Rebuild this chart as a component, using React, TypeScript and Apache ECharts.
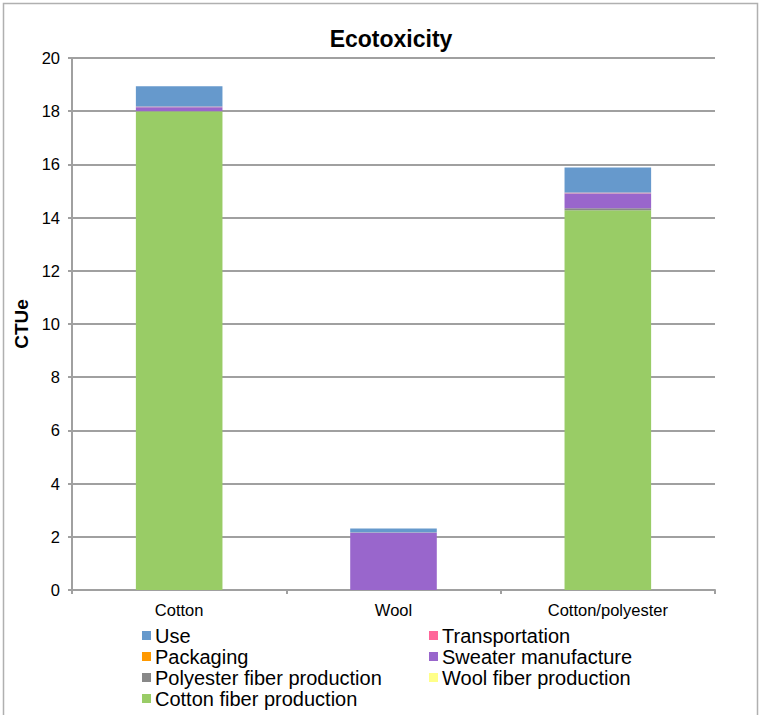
import React, { useEffect, useRef } from "react";
import * as echarts from "echarts";

const categories = ["Cotton", "Wool", "Cotton/polyester"];
const yTicks = { min: 0, max: 20, interval: 2 };

const cottonFiber = [18.0, 0, 14.28];
const woolFiber = [0, 0, 0];
const polyesterFiber = [0, 0, 0.07];
const sweaterManufacture = [0.15, 2.14, 0.56];
const packaging = [0, 0, 0];
const transportation = [0.03, 0.02, 0.03];
const use = [0.76, 0.15, 0.94];

const seriesDefs = [
  { name: "Cotton fiber production", data: cottonFiber, color: "#99CC66" },
  { name: "Wool fiber production", data: woolFiber, color: "#FFFF88" },
  { name: "Polyester fiber production", data: polyesterFiber, color: "#888888" },
  { name: "Sweater manufacture", data: sweaterManufacture, color: "#9966CC" },
  { name: "Packaging", data: packaging, color: "#FF9900" },
  { name: "Transportation", data: transportation, color: "#CC88AA" },
  { name: "Use", data: use, color: "#6699CC" },
];

const legendColors: Record<string, string> = { Transportation: "#FF6699" };

const leftLegend = ["Use", "Packaging", "Polyester fiber production", "Cotton fiber production"];
const rightLegend = ["Transportation", "Sweater manufacture", "Wool fiber production"];

const FONT = "Liberation Sans, Arial, Helvetica, sans-serif";

export default function App() {
  const ref = useRef<HTMLDivElement>(null);
  useEffect(() => {
    if (!ref.current) return;
    const chart = echarts.init(ref.current, null, { renderer: "svg" });
    const legendCommon = {
      orient: "vertical" as const,
      icon: "rect",
      itemWidth: 9,
      itemHeight: 9,
      itemGap: 0,
      height: 120,
      selectedMode: false,
      padding: 0,
      textStyle: {
        fontFamily: FONT,
        fontSize: 20,
        color: "#000",
        padding: [5, 0, 0, -1],
        lineHeight: 16,
      },
    };
    const toLegendData = (names: string[]) =>
      names.map((n) => (legendColors[n] ? { name: n, itemStyle: { color: legendColors[n] } } : { name: n }));
    chart.setOption({
      animation: false,
      backgroundColor: "#fff",
      title: {
        text: "Ecotoxicity",
        left: 386,
        top: 22,
        textAlign: "center",
        textStyle: { fontFamily: FONT, fontSize: 23, fontWeight: "bold", color: "#000" },
      },
      graphic: [
        {
          type: "rect",
          shape: { x: 3.5, y: 3.5, width: 754, height: 730 },
          style: { fill: "none", stroke: "#b0b0b0", lineWidth: 1.5 },
          silent: true,
        },
      ],
      grid: { left: 72, right: 47, top: 58, bottom: 125, containLabel: false },
      legend: [
        { ...legendCommon, data: toLegendData(leftLegend), left: 142, top: 625 },
        { ...legendCommon, data: toLegendData(rightLegend), left: 429, top: 625 },
      ],
      xAxis: {
        type: "category",
        data: categories,
        axisLine: { lineStyle: { color: "#a0a0a0", width: 2 } },
        axisTick: { show: true, length: 4, lineStyle: { color: "#a0a0a0", width: 2 } },
        axisLabel: { fontFamily: FONT, fontSize: 16.5, color: "#000", margin: 11 },
      },
      yAxis: {
        type: "value",
        min: yTicks.min,
        max: yTicks.max,
        interval: yTicks.interval,
        name: "CTUe",
        nameLocation: "middle",
        nameRotate: 90,
        nameGap: 40,
        nameTextStyle: { fontFamily: FONT, fontSize: 19, fontWeight: "bold", color: "#000" },
        axisLine: { show: true, lineStyle: { color: "#a0a0a0", width: 2 } },
        axisTick: { show: true, length: 4, lineStyle: { color: "#a0a0a0", width: 2 } },
        axisLabel: { fontFamily: FONT, fontSize: 16.5, color: "#000", margin: 12 },
        splitLine: { lineStyle: { color: "#a0a0a0", width: 2 } },
      },
      series: seriesDefs.map((s) => ({
        name: s.name,
        type: "bar",
        stack: "total",
        barWidth: "40.4%",
        data: s.data,
        itemStyle: { color: s.color },
        emphasis: { disabled: true },
      })),
    });
    return () => chart.dispose();
  }, []);
  return <div ref={ref} style={{ width: 762, height: 715, position: "absolute", left: 0, top: 0 }} />;
}
